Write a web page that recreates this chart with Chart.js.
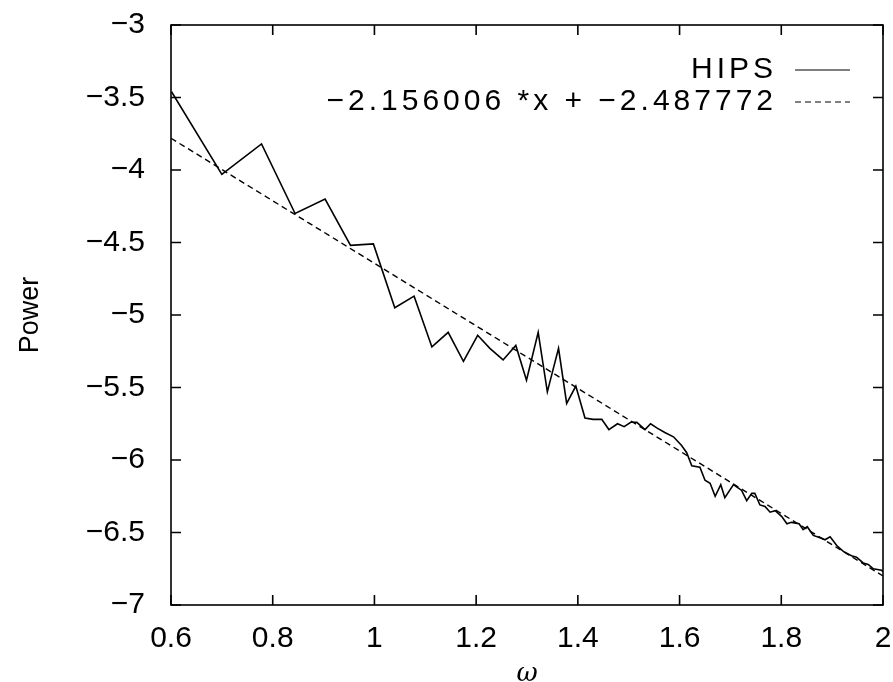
<!DOCTYPE html>
<html>
<head>
<meta charset="utf-8">
<script src="https://cdn.jsdelivr.net/npm/chart.js@4"></script>
<style>
  body { margin: 0; background: #fff; }
  #wrap { width: 893px; height: 682px; }
</style>
</head>
<body>
<div id="wrap"><canvas id="chart-power"></canvas></div>
<script>
// HIPS power spectrum
const hipsX = [0.601, 0.700, 0.778, 0.844, 0.903, 0.953, 0.998, 1.040, 1.078, 1.113,
    1.145, 1.175, 1.203, 1.227, 1.253, 1.278, 1.299, 1.322, 1.340, 1.362,
    1.378, 1.396, 1.414, 1.430, 1.447, 1.461, 1.478, 1.491, 1.504, 1.516,
    1.532, 1.543, 1.556, 1.571, 1.588, 1.604, 1.614, 1.624, 1.640, 1.650,
    1.660, 1.670, 1.681, 1.689, 1.706, 1.722, 1.732, 1.742, 1.748, 1.758,
    1.768, 1.778, 1.788, 1.801, 1.811, 1.820, 1.835, 1.843, 1.851, 1.863,
    1.879, 1.886, 1.896, 1.909, 1.922, 1.938, 1.948, 1.961, 1.971, 1.981,
    1.997, 2.000];
const hipsY = [-3.46, -4.03, -3.82, -4.30, -4.20, -4.52, -4.51, -4.95, -4.87, -5.22,
    -5.12, -5.32, -5.14, -5.23, -5.31, -5.21, -5.45, -5.12, -5.53, -5.23,
    -5.61, -5.49, -5.71, -5.72, -5.72, -5.79, -5.75, -5.77, -5.74, -5.74,
    -5.79, -5.75, -5.78, -5.81, -5.84, -5.90, -5.95, -6.04, -6.05, -6.14,
    -6.16, -6.25, -6.17, -6.26, -6.17, -6.21, -6.28, -6.23, -6.23, -6.31,
    -6.32, -6.36, -6.35, -6.39, -6.44, -6.43, -6.44, -6.48, -6.46, -6.52,
    -6.54, -6.55, -6.53, -6.59, -6.63, -6.66, -6.67, -6.71, -6.72, -6.75,
    -6.76, -6.77];

// fitted line end points
const fitX = [0.6, 2.0];
const fitY = [-3.781, -6.800];

const seriesLabels = ['HIPS', '\u22122.156006 *x + \u22122.487772'];
const xTicks = [0.6, 0.8, 1, 1.2, 1.4, 1.6, 1.8, 2];
const yTicks = [-3, -3.5, -4, -4.5, -5, -5.5, -6, -6.5, -7];

const FONT = 'Liberation Sans, Arial, sans-serif';
const fmt = v => String(Number(v.toFixed(1))).replace('-', '\u2212');

// gnuplot style frame with inward ticks on all four sides
const frameTicks = {
    id: 'frameTicks',
    afterDatasetsDraw(chart) {
        const { ctx, chartArea: a, scales: { x, y } } = chart;
        ctx.save();
        ctx.strokeStyle = '#000';
        ctx.lineWidth = 1.6;
        ctx.strokeRect(a.left, a.top, a.right - a.left, a.bottom - a.top);
        ctx.beginPath();
        x.ticks.forEach(t => {
            const px = x.getPixelForValue(t.value);
            ctx.moveTo(px, a.bottom); ctx.lineTo(px, a.bottom - 10);
            ctx.moveTo(px, a.top); ctx.lineTo(px, a.top + 10);
        });
        y.ticks.forEach(t => {
            const py = y.getPixelForValue(t.value);
            ctx.moveTo(a.left, py); ctx.lineTo(a.left + 10, py);
            ctx.moveTo(a.right, py); ctx.lineTo(a.right - 10, py);
        });
        ctx.stroke();
        ctx.restore();
    },
};

// key in the top right corner: text, then a line sample
const keyBox = {
    id: 'keyBox',
    afterDatasetsDraw(chart) {
        const { ctx, chartArea: a } = chart;
        ctx.save();
        ctx.font = '30px ' + FONT;
        ctx.letterSpacing = '4px';
        ctx.fillStyle = '#000';
        ctx.textAlign = 'right';
        ctx.textBaseline = 'middle';
        chart.data.datasets.forEach((ds, i) => {
            const yy = a.top + 45 + i * 32;
            ctx.fillText(ds.label, a.right - 106, yy);
            ctx.beginPath();
            ctx.setLineDash(ds.borderDash || []);
            ctx.lineWidth = 1.2;
            ctx.strokeStyle = '#000';
            ctx.moveTo(a.right - 88, yy);
            ctx.lineTo(a.right - 33, yy);
            ctx.stroke();
        });
        ctx.restore();
    },
};

new Chart(document.getElementById('chart-power'), {
    type: 'line',
    data: {
        datasets: [
            {
                label: seriesLabels[0],
                data: hipsX.map((x, i) => ({ x: x, y: hipsY[i] })),
                borderColor: '#000',
                borderWidth: 1.6,
                pointRadius: 0,
                tension: 0,
            },
            {
                label: seriesLabels[1],
                data: fitX.map((x, i) => ({ x: x, y: fitY[i] })),
                borderColor: '#000',
                borderWidth: 1.4,
                borderDash: [6, 4],
                pointRadius: 0,
            },
        ],
    },
    options: {
        responsive: true,
        maintainAspectRatio: false,
        animation: false,
        layout: { padding: { top: 25, right: 10, left: 0, bottom: 0 } },
        plugins: {
            legend: { display: false },
            tooltip: { enabled: false },
        },
        scales: {
            x: {
                type: 'linear',
                min: 0.6,
                max: 2,
                afterBuildTicks: s => { s.ticks = xTicks.map(v => ({ value: v })); },
                afterFit: s => { s.height = 77; s.paddingLeft = 0; s.paddingRight = 0; },
                grid: { display: false, drawTicks: false },
                border: { display: false },
                ticks: {
                    color: '#000',
                    padding: 16,
                    maxRotation: 0,
                    font: { family: FONT, size: 30 },
                    callback: v => fmt(v),
                },
                title: {
                    display: true,
                    text: '\u03c9',
                    color: '#000',
                    padding: { top: 0, bottom: -3 },
                    font: { family: 'DejaVu Serif', size: 26, style: 'italic', lineHeight: 0.8 },
                },
            },
            y: {
                type: 'linear',
                min: -7,
                max: -3,
                afterBuildTicks: s => { s.ticks = yTicks.map(v => ({ value: v })); },
                afterFit: s => { s.width = 171; s.paddingTop = 0; s.paddingBottom = 0; },
                grid: { display: false, drawTicks: false },
                border: { display: false },
                ticks: {
                    color: '#000',
                    padding: 26,
                    font: { family: FONT, size: 30 },
                    callback: v => fmt(v),
                },
                title: {
                    display: true,
                    text: 'Power',
                    color: '#000',
                    padding: { top: 14, bottom: 0 },
                    font: { family: FONT, size: 27 },
                },
            },
        },
    },
    plugins: [frameTicks, keyBox],
});
</script>
</body>
</html>
